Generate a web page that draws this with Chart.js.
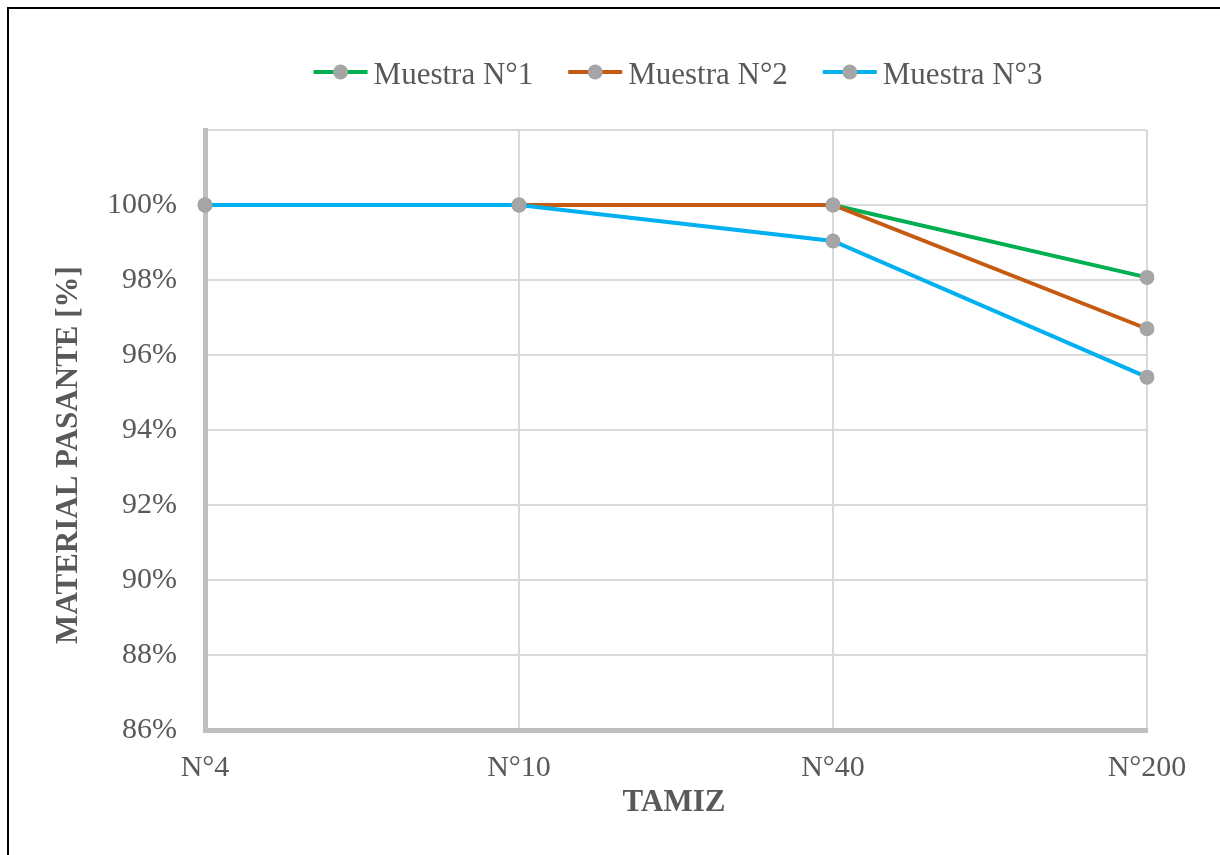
<!DOCTYPE html>
<html>
<head>
<meta charset="utf-8">
<script src="https://cdn.jsdelivr.net/npm/chart.js@4.4.1/dist/chart.umd.min.js"></script>
<style>
  html, body { margin: 0; padding: 0; background: #ffffff; }
  #wrap { position: relative; width: 1220px; height: 855px; }
  canvas { display: block; }
</style>
</head>
<body>
<div id="wrap"><canvas id="granulometria" width="1220" height="855"></canvas></div>
<script>
// Sieve sizes and percent passing for each sample
const tamices = ['N°4', 'N°10', 'N°40', 'N°200'];
const muestra1 = [100, 100, 100, 98.07];
const muestra2 = [100, 100, 100, 96.70];
const muestra3 = [100, 100, 99.04, 95.41];
const seriesNames = ['Muestra N°1', 'Muestra N°2', 'Muestra N°3'];
const seriesColors = ['#00B050', '#C55A11', '#00B0F0'];
const markerColor = '#A5A5A5';
const yAxisTitle = 'MATERIAL PASANTE [%]';
const xAxisTitle = 'TAMIZ';
const yMin = 86, yMax = 102, yStep = 2;

const textColor = '#595959';
const serif = '"Liberation Serif", "Times New Roman", serif';

// Outer frame, legend with line+marker swatches, and axis titles
const decorations = {
  id: 'decorations',
  beforeDraw(chart) {
    const ctx = chart.ctx;
    ctx.save();
    ctx.fillStyle = '#ffffff';
    ctx.fillRect(0, 0, chart.width, chart.height);
    ctx.fillStyle = '#000000';
    ctx.fillRect(7, 7, 2, chart.height);
    ctx.fillRect(7, 7, chart.width, 2);
    ctx.restore();
  },
  afterDraw(chart) {
    const ctx = chart.ctx;
    const area = chart.chartArea;
    ctx.save();
    ctx.fillStyle = textColor;

    // legend
    ctx.font = '31px ' + serif;
    const swatch = 54, gapText = 6, gapItem = 35;
    const items = seriesNames.map((n, i) => ({ name: n, color: seriesColors[i], w: ctx.measureText(n).width }));
    const total = items.reduce((s, it) => s + swatch + gapText + it.w, 0) + gapItem * (items.length - 1);
    let x = (area.left + area.right) / 2 + 2 - total / 2;
    const ly = 72;
    items.forEach(it => {
      ctx.strokeStyle = it.color;
      ctx.lineWidth = 4;
      ctx.beginPath();
      ctx.moveTo(x, ly);
      ctx.lineTo(x + swatch, ly);
      ctx.stroke();
      ctx.fillStyle = markerColor;
      ctx.beginPath();
      ctx.arc(x + swatch / 2, ly, 7.5, 0, Math.PI * 2);
      ctx.fill();
      ctx.fillStyle = textColor;
      ctx.textAlign = 'left';
      ctx.textBaseline = 'alphabetic';
      ctx.fillText(it.name, x + swatch + gapText, ly + 11.5);
      x += swatch + gapText + it.w + gapItem;
    });

    // axis titles
    ctx.font = 'bold 31px ' + serif;
    ctx.textAlign = 'center';
    ctx.textBaseline = 'middle';
    ctx.fillText(xAxisTitle, (area.left + area.right) / 2 - 2, area.bottom + 73);
    ctx.translate(69, 455);
    ctx.rotate(-Math.PI / 2);
    ctx.fillText(yAxisTitle, 0, 0);
    ctx.restore();
  }
};

const makeSeries = (i, data, order) => ({
  label: seriesNames[i],
  data: data,
  borderColor: seriesColors[i],
  backgroundColor: seriesColors[i],
  borderWidth: 4,
  pointRadius: 7.5,
  pointHoverRadius: 7.5,
  pointBackgroundColor: markerColor,
  pointBorderColor: markerColor,
  pointBorderWidth: 0,
  tension: 0,
  fill: false,
  order: order
});

new Chart(document.getElementById('granulometria'), {
  type: 'line',
  data: {
    labels: tamices,
    datasets: [
      makeSeries(0, muestra1, 2),
      makeSeries(1, muestra2, 1),
      makeSeries(2, muestra3, 0)
    ]
  },
  options: {
    responsive: false,
    animation: false,
    events: [],
    layout: { padding: { left: 0, top: 130, right: 73, bottom: 0 } },
    plugins: {
      legend: { display: false },
      title: { display: false },
      tooltip: { enabled: false }
    },
    scales: {
      x: {
        offset: false,
        afterFit(scale) { scale.height = 125; },
        grid: { color: '#D9D9D9', lineWidth: 2, drawTicks: false },
        border: { color: '#BFBFBF', width: 5 },
        ticks: {
          color: textColor,
          font: { family: serif, size: 30 },
          padding: 20,
          maxRotation: 0,
          autoSkip: false
        }
      },
      y: {
        min: yMin,
        max: yMax,
        afterFit(scale) { scale.width = 205; },
        grid: { color: '#D9D9D9', lineWidth: 2, drawTicks: false },
        border: { color: '#BFBFBF', width: 5 },
        ticks: {
          stepSize: yStep,
          color: textColor,
          font: { family: serif, size: 30 },
          padding: 28,
          callback: v => (v >= yMax ? '' : v + '%')
        }
      }
    }
  },
  plugins: [decorations]
});
</script>
</body>
</html>
